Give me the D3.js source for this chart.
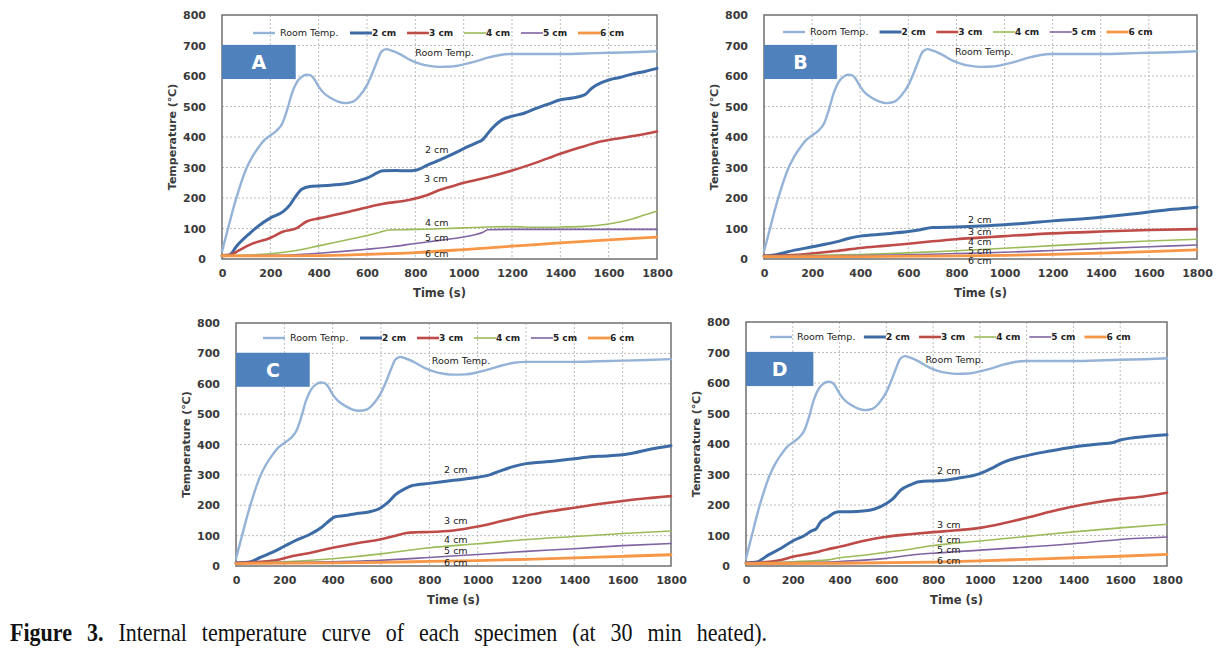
<!DOCTYPE html>
<html><head><meta charset="utf-8">
<script src="https://cdn.jsdelivr.net/npm/d3@7/dist/d3.min.js"></script>
<style>html,body{margin:0;padding:0;background:#fff;}svg{display:block;}</style>
</head><body>
<svg id="chart" width="1229" height="650"></svg>
<script>
// ---------- DATA ----------
const seriesNames = ["Room Temp.", "2 cm", "3 cm", "4 cm", "5 cm", "6 cm"];
const xTicks = [0, 200, 400, 600, 800, 1000, 1200, 1400, 1600, 1800];
const yTicks = [0, 100, 200, 300, 400, 500, 600, 700, 800];
const panelLetters = ["A", "B", "C", "D"];

const roomTemp = [[0,25],[25,100],[50,175],[75,240],[100,295],[125,335],[150,365],[175,390],[200,405],[225,420],[250,445],[270,490],[290,545],[310,580],[330,597],[350,604],[365,603],[380,592],[400,565],[420,545],[450,528],[480,516],[510,511],[540,515],[570,535],[600,570],[620,605],[640,645],[660,680],[680,688],[700,684],[740,670],[780,652],[820,640],[860,633],[900,630],[950,631],[1000,638],[1050,648],[1100,660],[1150,669],[1200,672],[1300,672],[1400,672],[1500,674],[1600,676],[1700,678],[1800,681]];

const a2 = [[0,10],[30,12],[60,42],[116,85],[150,108],[199,134],[254,156],[282,178],[300,200],[330,229],[364,238],[450,242],[530,249],[599,265],[668,289],[720,290],[764,289],[806,292],[850,308],[902,325],[950,342],[1000,362],[1050,380],[1080,392],[1100,412],[1130,438],[1160,457],[1200,468],[1250,478],[1300,494],[1350,508],[1400,522],[1450,528],[1500,538],[1530,560],[1570,578],[1600,587],[1650,596],[1700,607],[1750,615],[1800,625]];
const a3 = [[0,12],[33,14],[70,28],[116,47],[199,69],[254,90],[309,101],[350,123],[405,134],[530,156],[668,181],[778,194],[850,210],[900,226],[950,238],[1000,250],[1100,268],[1200,290],[1300,316],[1400,345],[1450,358],[1500,370],[1550,382],[1600,390],[1700,403],[1750,410],[1800,418]];
const a4 = [[0,12],[100,13],[200,17],[300,27],[400,43],[500,60],[600,77],[650,87],[690,95],[750,96],[800,97],[900,99],[1000,102],[1100,105],[1200,106],[1300,104],[1400,105],[1500,107],[1550,110],[1600,115],[1650,122],[1700,132],[1750,145],[1800,157]];
const a5 = [[0,10],[200,12],[300,14],[400,19],[500,25],[600,32],[700,40],[800,51],[900,61],[1000,72],[1050,80],[1080,88],[1100,96],[1200,97],[1400,97],[1600,97],[1800,97]];
const a6 = [[0,10],[200,10],[400,11],[600,15],[800,21],[1000,31],[1200,42],[1400,53],[1600,63],[1800,72]];

const b2 = [[0,10],[50,14],[100,24],[200,40],[300,56],[350,67],[400,75],[500,82],[600,90],[650,96],[700,103],[800,105],[900,108],[1000,112],[1100,118],[1200,125],[1300,130],[1400,137],[1500,145],[1600,154],[1700,163],[1800,170]];
const b3 = [[0,10],[100,12],[200,18],[300,26],[400,36],[500,43],[600,50],[700,58],[800,65],[900,70],[1000,75],[1200,84],[1400,90],[1600,95],[1800,98]];
const b4 = [[0,10],[200,12],[400,15],[600,20],[800,27],[1000,35],[1200,44],[1400,52],[1600,59],[1800,65]];
const b5 = [[0,9],[400,11],[600,14],[800,18],[1000,22],[1200,28],[1400,34],[1600,40],[1800,46]];
const b6 = [[0,8],[400,8],[800,10],[1000,12],[1200,15],[1400,19],[1600,24],[1800,30]];

const c2 = [[0,10],[50,12],[100,28],[150,45],[200,65],[250,85],[300,102],[350,125],[380,145],[410,162],[450,166],[500,173],[550,178],[600,192],[630,210],[660,235],[700,255],[730,265],[800,272],[900,282],[1000,292],[1050,300],[1100,315],[1150,328],[1200,337],[1300,344],[1400,353],[1450,358],[1500,361],[1600,366],[1650,373],[1700,382],[1800,396]];
const c3 = [[0,10],[100,14],[170,20],[230,32],[300,42],[400,60],[500,75],[600,88],[650,98],[700,108],[750,111],[800,112],[900,117],[1000,130],[1100,148],[1200,166],[1300,180],[1400,192],[1500,204],[1600,214],[1700,223],[1800,230]];
const c4 = [[0,10],[200,14],[400,24],[600,40],[700,50],[800,60],[1000,73],[1200,87],[1400,97],[1600,107],[1800,115]];
const c5 = [[0,10],[200,11],[400,14],[600,19],[800,28],[1000,38],[1200,48],[1400,57],[1600,67],[1800,74]];
const c6 = [[0,8],[400,10],[600,12],[800,15],[1000,18],[1200,22],[1400,27],[1600,32],[1800,37]];

const d2 = [[0,10],[40,12],[100,38],[150,58],[200,82],[250,100],[280,115],[300,122],[320,145],[350,160],[380,175],[400,178],[450,178],[500,180],[550,187],[600,205],[630,222],[660,248],[700,265],[740,276],[800,279],[850,281],[900,287],[1000,303],[1050,320],[1100,340],[1200,362],[1300,377],[1400,390],[1500,399],[1570,405],[1600,413],[1650,420],[1700,424],[1800,430]];
const d3s = [[0,10],[100,14],[150,20],[200,30],[300,45],[350,55],[400,63],[500,82],[600,96],[700,104],[800,111],[900,117],[1000,125],[1100,140],[1200,158],[1300,178],[1400,195],[1500,209],[1600,220],[1700,228],[1800,240]];
const d4 = [[0,10],[200,14],[350,20],[400,27],[500,35],[600,45],[700,55],[800,67],[1000,82],[1200,97],[1400,112],[1600,125],[1800,137]];
const d5 = [[0,10],[200,11],[400,15],[600,25],[700,35],[800,42],[1000,52],[1200,62],[1400,73],[1600,87],[1800,95]];
const d6 = [[0,8],[400,9],[800,13],[1000,17],[1200,22],[1400,27],[1600,32],[1800,38]];

// inline label anchor points [time, temp] per panel: Room, 2,3,4,5,6 cm
const labelsA = [[800,675],[840,360],[836,262],[840,120],[840,70],[840,19]];
const labelsB = [[794,679],[848,130],[848,88],[848,56],[848,27],[848,-6]];
const labelsC = [[810,676],[861,316],[861,149],[861,87],[861,50],[861,12]];
const labelsD = [[767,678],[817,311],[817,134],[817,87],[817,52],[817,16]];

const captionBold = "Figure 3.";
const captionText = "Internal temperature curve of each specimen (at 30 min heated).";

// ---------- STYLE / LAYOUT ----------
const colors = ["#95B3D7", "#3D6BA6", "#BE4B48", "#9BBB59", "#8064A2", "#F79646"];
const widths = [2.4, 3, 2.6, 1.6, 1.6, 2.8];

const panels = [
  {left:222, top:15, w:435, h:244, series:[roomTemp,a2,a3,a4,a5,a6], labels:labelsA, legX:31, legY:18, boxT:305},
  {left:764, top:15, w:433, h:244, series:[roomTemp,b2,b3,b4,b5,b6], labels:labelsB, legX:19, legY:17, boxT:303},
  {left:236, top:323, w:435, h:243, series:[roomTemp,c2,c3,c4,c5,c6], labels:labelsC, legX:27, legY:15, boxT:305},
  {left:746, top:322, w:421, h:244, series:[roomTemp,d2,d3s,d4,d5,d6], labels:labelsD, legX:24, legY:15, boxT:288}
];

const svg = d3.select("#chart");
const tickFont = "'DejaVu Sans', sans-serif";

panels.forEach((p, pi) => {
  const x = d3.scaleLinear().domain([0, 1800]).range([0, p.w]);
  const y = d3.scaleLinear().domain([0, 800]).range([p.h, 0]);
  const g = svg.append("g").attr("transform", `translate(${p.left},${p.top})`);

  // grid
  g.append("g").selectAll("line.v").data(xTicks.slice(1, -1)).join("line")
    .attr("x1", d => x(d)).attr("x2", d => x(d)).attr("y1", 0).attr("y2", p.h)
    .attr("stroke", "#bdbdbd").attr("stroke-width", 1).attr("stroke-dasharray", "2,2");
  g.append("g").selectAll("line.h").data(yTicks.slice(1, -1)).join("line")
    .attr("x1", 0).attr("x2", p.w).attr("y1", d => y(d)).attr("y2", d => y(d))
    .attr("stroke", "#bdbdbd").attr("stroke-width", 1).attr("stroke-dasharray", "2,2");

  // frame
  g.append("rect").attr("x", 0).attr("y", 0).attr("width", p.w).attr("height", p.h)
    .attr("fill", "none").attr("stroke", "#6f6f6f").attr("stroke-width", 1.5);

  // axes
  const xa = g.append("g").attr("transform", `translate(0,${p.h})`)
    .call(d3.axisBottom(x).tickValues(xTicks).tickSize(0).tickPadding(10).tickFormat(d3.format("d")));
  const ya = g.append("g")
    .call(d3.axisLeft(y).tickValues(yTicks).tickSize(0).tickPadding(16).tickFormat(d3.format("d")));
  [xa, ya].forEach(a => {
    a.select(".domain").remove();
    a.selectAll("text").attr("font-family", tickFont).attr("font-weight", "bold")
      .attr("font-size", 11).attr("fill", "#3a3a3a");
  });

  // axis titles
  g.append("text").attr("x", p.w / 2).attr("y", p.h + 38).attr("text-anchor", "middle")
    .attr("font-family", tickFont).attr("font-weight", "bold").attr("font-size", 11.5)
    .attr("fill", "#3a3a3a").text("Time (s)");
  g.append("text").attr("transform", `translate(${-50},${p.h / 2}) rotate(-90)`)
    .attr("text-anchor", "middle").attr("dy", "0.35em")
    .attr("font-family", tickFont).attr("font-weight", "bold").attr("font-size", 11)
    .attr("fill", "#3a3a3a").text("Temperature (℃)");

  // lines
  const line = d3.line().x(d => x(d[0])).y(d => y(d[1])).curve(d3.curveMonotoneX);
  g.append("g").selectAll("path").data(p.series).join("path")
    .attr("d", line).attr("fill", "none")
    .attr("stroke", (d, i) => colors[i]).attr("stroke-width", (d, i) => widths[i])
    .attr("stroke-linejoin", "round").attr("stroke-linecap", "round");

  // letter box
  g.append("rect").attr("x", x(0)).attr("y", y(702)).attr("width", x(p.boxT) - x(0))
    .attr("height", y(590) - y(702)).attr("fill", "#4F81BD");
  g.append("text").attr("x", x(p.boxT) / 2).attr("y", (y(702) + y(590)) / 2).attr("dy", "0.36em")
    .attr("text-anchor", "middle").attr("font-family", tickFont).attr("font-weight", "bold")
    .attr("font-size", 19).attr("fill", "#fff").text(panelLetters[pi]);

  // inline labels
  g.append("g").selectAll("text").data(p.labels).join("text")
    .attr("x", d => x(d[0])).attr("y", d => y(d[1])).attr("dy", "0.35em")
    .attr("font-family", tickFont).attr("font-size", 9.5).attr("fill", "#222")
    .text((d, i) => seriesNames[i]);

  // legend
  const step = p.w * 0.131;
  const firstGap = p.w * 0.223;
  const leg = g.append("g").attr("transform", `translate(${p.legX},${p.legY})`);
  seriesNames.forEach((name, i) => {
    const lx = i === 0 ? 0 : firstGap + (i - 1) * step;
    leg.append("line").attr("x1", lx).attr("x2", lx + 22).attr("y1", 0).attr("y2", 0)
      .attr("stroke", colors[i]).attr("stroke-width", widths[i]);
    leg.append("text").attr("x", lx + (i === 0 ? 27 : 22)).attr("y", 0).attr("dy", "0.35em")
      .attr("font-family", tickFont).attr("font-size", i === 0 ? 9.5 : 9)
      .attr("font-weight", i === 0 ? "normal" : "bold").attr("fill", "#222").text(name);
  });
});

// caption
const cap = svg.append("text").attr("transform", "translate(10,641) scale(1,1.13)")
  .attr("x", 0).attr("y", 0)
  .attr("font-family", "'Liberation Serif', 'Times New Roman', serif").attr("font-size", 22)
  .attr("fill", "#111").attr("word-spacing", 9.5);
cap.append("tspan").attr("font-weight", "bold").text(captionBold);
cap.append("tspan").text(" " + captionText);
</script>
</body></html>
